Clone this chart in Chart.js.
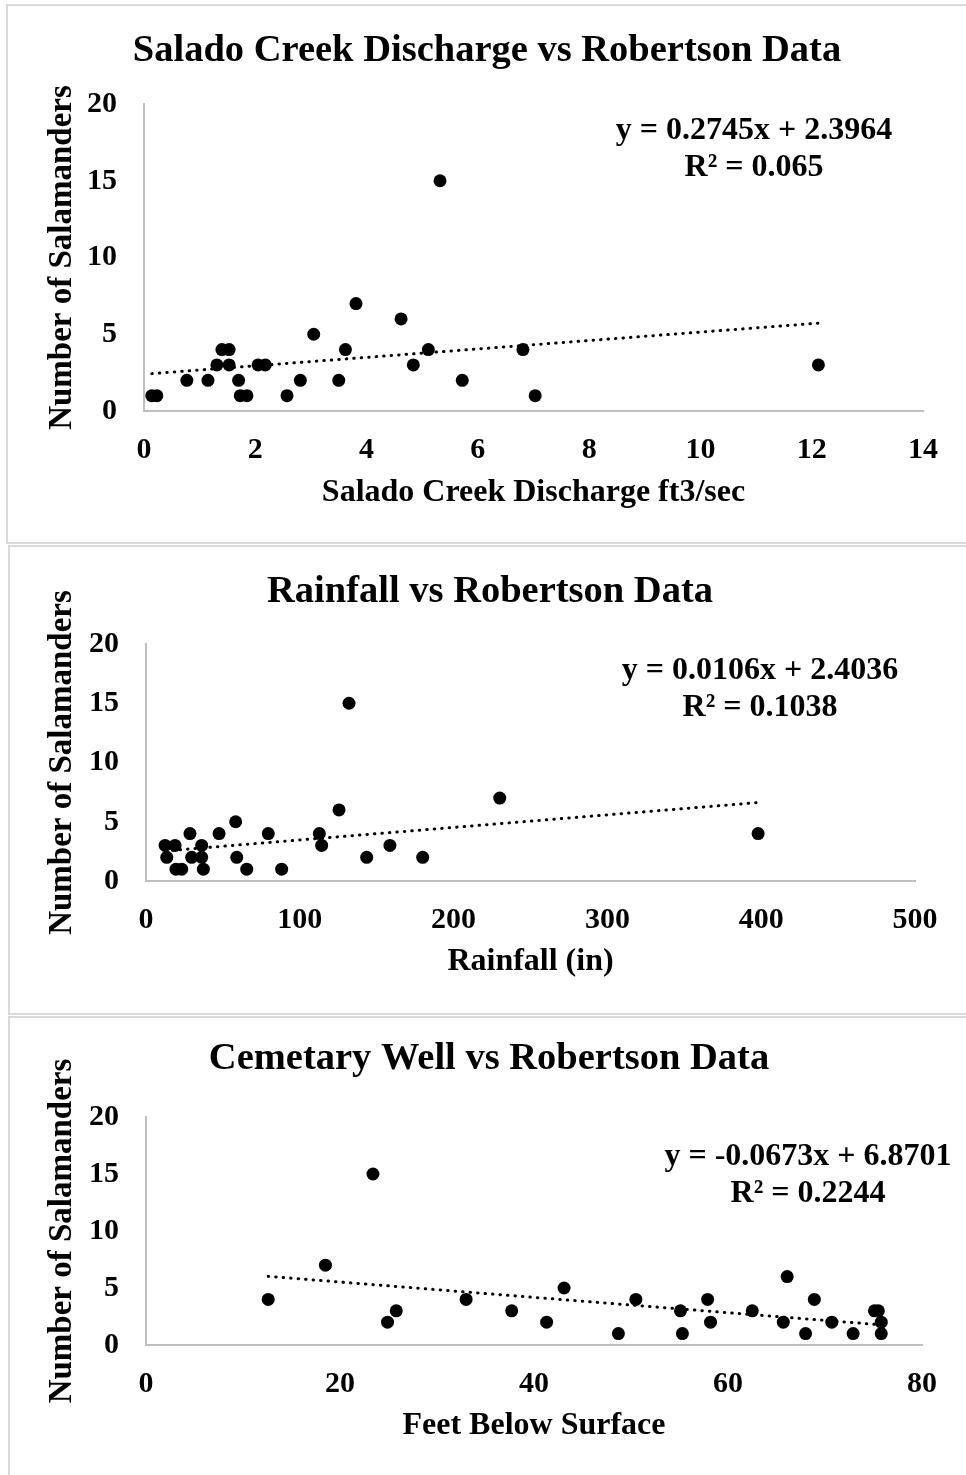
<!DOCTYPE html>
<html>
<head>
<meta charset="utf-8">
<script src="https://cdn.jsdelivr.net/npm/chart.js@4.4.1/dist/chart.umd.min.js"></script>
<style>
  html, body { margin: 0; padding: 0; background: #fff; }
  body { width: 966px; height: 1475px; position: relative; overflow: hidden; }
  .box { position: absolute; border: 2px solid #d9d9d9; box-sizing: border-box; }
  canvas { position: absolute; left: 0; }
</style>
</head>
<body>
<div class="box" style="left:6px;top:4px;width:1000px;height:540px"></div>
<div class="box" style="left:8px;top:545px;width:1000px;height:470px"></div>
<div class="box" style="left:8px;top:1016px;width:1000px;height:480px"></div>
<canvas id="discharge" width="966" height="536" style="top:6px"></canvas>
<canvas id="rainfall" width="966" height="466" style="top:547px"></canvas>
<canvas id="well" width="966" height="452" style="top:1018px"></canvas>
<script>
// Salado Creek discharge (ft3/sec) vs salamander count
const dischargeX = [0.14, 0.23, 0.77, 1.15, 1.31, 1.40, 1.53, 1.53, 1.70, 1.73, 1.85, 2.05, 2.18, 2.57,
  2.81, 3.05, 3.50, 3.62, 3.81, 4.62, 4.84, 5.11, 5.32, 5.72, 6.81, 7.03, 12.12];
const dischargeY = [1, 1, 2, 2, 3, 4, 4, 3, 2, 1, 1, 3, 3, 1,
  2, 5, 2, 4, 7, 6, 3, 4, 15, 2, 4, 1, 3];

// Rainfall (in) vs salamander count
const rainfallX = [12.4, 18.9, 36.2, 114.2, 158.6, 13.5, 29.7, 36.2, 59.0, 143.5, 179.9,
  19.5, 23.2, 37.3, 65.5, 88.2, 28.6, 47.5, 79.5, 112.7, 398, 58.3, 125.5, 230, 132];
const rainfallY = [3, 3, 3, 3, 3, 2, 2, 2, 2, 2, 2,
  1, 1, 1, 1, 1, 4, 4, 4, 4, 4, 5, 6, 7, 15];

// Cemetary well depth (feet below surface) vs salamander count
const wellX = [12.6, 18.5, 23.4, 24.9, 25.8, 33.0, 37.7, 41.3, 43.1, 48.7, 50.5, 55.1, 55.3,
  57.9, 58.2, 62.5, 65.7, 66.1, 68.0, 68.9, 70.7, 72.9, 75.1, 75.5, 75.8, 75.8];
const wellY = [4, 7, 15, 2, 3, 4, 3, 2, 5, 1, 4, 3, 1,
  4, 2, 3, 2, 6, 1, 4, 2, 1, 3, 3, 2, 1];

// linear trendlines as reported on the charts
const trendSlope = [0.2745, 0.0106, -0.0673];
const trendIntercept = [2.3964, 2.4036, 6.8701];
const rSquared = ['0.065', '0.1038', '0.2244'];

const titles = ['Salado Creek Discharge vs Robertson Data', 'Rainfall vs Robertson Data', 'Cemetary Well vs Robertson Data'];
const xTitles = ['Salado Creek Discharge ft3/sec', 'Rainfall (in)', 'Feet Below Surface'];
const xMax = [14, 500, 80];
const xStep = [2, 100, 20];

Chart.defaults.font.family = '"Liberation Serif", "Times New Roman", serif';
Chart.defaults.font.weight = 'bold';
Chart.defaults.color = '#000';

const trendLabel = {
  id: 'trendLabel',
  afterDatasetsDraw(chart, args, opts) {
    const {ctx, chartArea} = chart;
    ctx.save();
    ctx.font = 'bold 32px "Liberation Serif"';
    ctx.fillStyle = '#000';
    ctx.textAlign = 'center';
    ctx.textBaseline = 'alphabetic';
    const x = chartArea.left + opts.dx;
    const y = chartArea.top + opts.dy;
    opts.lines.forEach((t, i) => ctx.fillText(t, x, y + i * 37));
    ctx.restore();
  }
};

// layout in page pixels
const layouts = [
  {canvasTop: 6, canvasH: 536, left: 144, right: 923, top: 104, bottom: 411, titleX: 487, titleMid: 51, xTitleMid: 493, eq: {dx: 610, dy: 35}},
  {canvasTop: 547, canvasH: 466, left: 146, right: 915, top: 644, bottom: 881, titleX: 490, titleMid: 592, xTitleMid: 962, eq: {dx: 614, dy: 35}},
  {canvasTop: 1018, canvasH: 452, left: 146, right: 922, top: 1117, bottom: 1345, titleX: 489, titleMid: 1059, xTitleMid: 1426, eq: {dx: 662, dy: 48}}
];

function makeChart(id, i, xs, ys) {
  const L = layouts[i];
  const pts = xs.map((x, k) => ({x: x, y: ys[k]}));
  const lo = Math.min(...xs), hi = Math.max(...xs);
  const trend = [lo, hi].map(x => ({x: x, y: trendSlope[i] * x + trendIntercept[i]}));
  const titleLH = 38.5 * 1.2;
  const padL = 2 * L.titleX - L.right;   // shifts the centred title to where it sits in the original
  const sign = trendIntercept[i] < 0 ? ' - ' : ' + ';
  const eqText = 'y = ' + trendSlope[i].toFixed(4) + 'x' + sign + Math.abs(trendIntercept[i]).toFixed(4);

  new Chart(document.getElementById(id), {
    type: 'scatter',
    data: {
      datasets: [
        {data: pts, backgroundColor: '#000', borderWidth: 0, pointRadius: 6.5, pointHoverRadius: 6.5},
        {type: 'line', data: trend, borderColor: '#000', borderWidth: 3, borderDash: [0.5, 7],
         borderCapStyle: 'round', pointRadius: 0, fill: false}
      ]
    },
    options: {
      responsive: false,
      animation: false,
      events: [],
      layout: {padding: {left: padL, right: 966 - L.right, top: 0, bottom: 0}},
      plugins: {
        legend: {display: false},
        tooltip: {enabled: false},
        title: {
          display: true,
          text: titles[i],
          font: {size: 38.5, weight: 'bold'},
          color: '#000',
          padding: {top: L.titleMid - L.canvasTop - titleLH / 2, bottom: L.top - L.titleMid - titleLH / 2}
        },
        trendLabel: {dx: L.eq.dx, dy: L.eq.dy, lines: [eqText, 'R\u00b2 = ' + rSquared[i]]}
      },
      scales: {
        x: {
          type: 'linear', min: 0, max: xMax[i],
          ticks: {stepSize: xStep[i], font: {size: 30, weight: 'bold'}, padding: 21, maxRotation: 0},
          grid: {display: false, drawTicks: false},
          border: {display: true, color: '#bfbfbf', width: 2},
          title: {display: true, text: xTitles[i], font: {size: 32, weight: 'bold'},
                  padding: {top: 0, bottom: L.canvasTop + L.canvasH - L.xTitleMid - 19.2}},
          afterFit: s => { s.height = L.canvasTop + L.canvasH - L.bottom; }
        },
        y: {
          min: 0, max: 20,
          ticks: {stepSize: 5, font: {size: 30, weight: 'bold'}, padding: 27},
          grid: {display: false, drawTicks: false},
          border: {display: true, color: '#bfbfbf', width: 2},
          title: {display: true, text: 'Number of Salamanders', font: {size: 33, weight: 'bold'},
                  padding: {top: 62 - 19.8 - padL, bottom: 0}},
          afterFit: s => { s.width = L.left - padL; }
        }
      }
    },
    plugins: [trendLabel]
  });
}

makeChart('discharge', 0, dischargeX, dischargeY);
makeChart('rainfall', 1, rainfallX, rainfallY);
makeChart('well', 2, wellX, wellY);
</script>
</body>
</html>
